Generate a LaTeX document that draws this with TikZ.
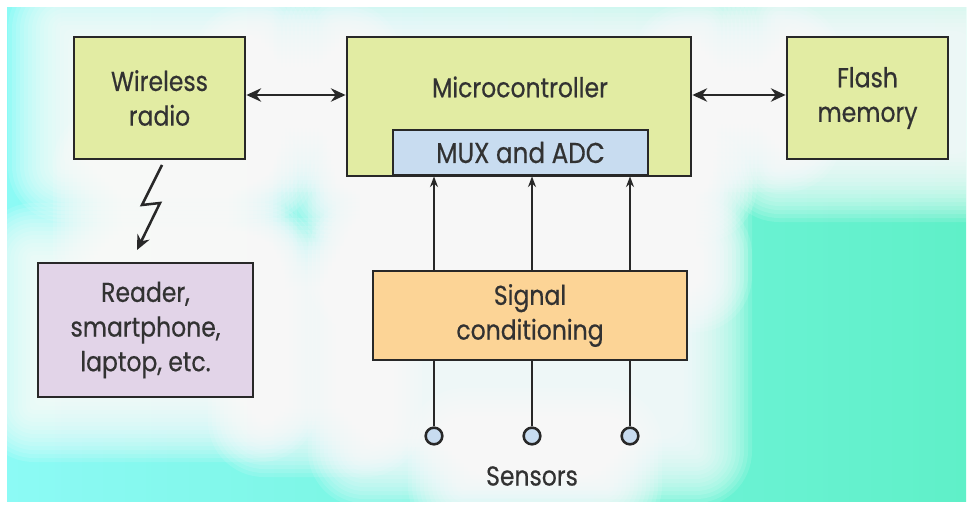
\documentclass[tikz,border=0pt]{standalone}
\usepackage{fontspec}
\newfontfamily\df[FakeStretch=0.86,FakeBold=0.5]{Poppins}
\usetikzlibrary{arrows.meta,calc}
\definecolor{cyanbg}{RGB}{140,250,245}
\definecolor{tealbg}{RGB}{95,240,200}
\definecolor{boxgreen}{RGB}{226,236,163}
\definecolor{muxblue}{RGB}{200,220,240}
\definecolor{readerlav}{RGB}{226,212,232}
\definecolor{sigorange}{RGB}{252,212,150}
\definecolor{linecol}{RGB}{40,40,40}
\definecolor{textcol}{RGB}{50,50,50}
\newcommand\glowbox[4]{%
  \foreach \e in {52,48,...,-16}{%
    \pgfmathsetmacro\rc{max(abs(\e)*0.75+3,3)}%
    \fill[white,opacity=0.12,rounded corners=\rc pt] ({#1-\e},{#2-\e}) rectangle ({#3+\e},{#4+\e});
  }%
}
\tikzset{
  blk/.style={draw=linecol,line width=2.1pt,rectangle,inner sep=0pt,align=center,
    text=textcol,font=\df\fontsize{20.5}{26}\selectfont},
  conn/.style={draw=linecol,line width=1.9pt},
  bigtip/.style={-{Stealth[length=11pt,width=10pt]}},
  dbltip/.style={{Stealth[length=11pt,width=10pt]}-{Stealth[length=11pt,width=10pt]}},
  smalltip/.style={-{Stealth[length=8pt,width=6pt]}},
  sensor/.style={circle,draw=linecol,line width=1.9pt,fill=muxblue,minimum size=12.5pt,inner sep=0pt},
}
\begin{document}
\begin{tikzpicture}[x=0.75pt,y=-0.75pt]
\useasboundingbox (0,0) rectangle (969,506);
\fill[white] (0,0) rectangle (969,506);
\shade[left color=cyanbg,right color=tealbg] (7,8) rectangle (966,501);
\begin{scope}
\clip (7,8) rectangle (966,501);
\glowbox{60}{25}{265}{170}
\glowbox{335}{25}{705}{190}
\glowbox{775}{15}{990}{170}
\glowbox{245}{55}{350}{140}
\glowbox{685}{55}{790}{140}
\glowbox{30}{255}{265}{410}
\glowbox{360}{180}{700}{280}
\glowbox{360}{250}{700}{455}
\glowbox{260}{270}{370}{425}
\glowbox{105}{160}{245}{255}
\glowbox{460}{440}{610}{490}
\end{scope}
% boxes
\node[blk,fill=boxgreen,minimum width=128.25pt,minimum height=91.5pt] (radio) at (159.5,98) {Wireless\\radio};
\node[blk,fill=boxgreen,minimum width=258pt,minimum height=104.25pt] (mcu) at (519,106.5) {};
\node[text=textcol,font=\df\fontsize{20.5}{26}\selectfont] (mcutext) at (520,87) {Microcontroller};
\node[blk,fill=muxblue,minimum width=191.25pt,minimum height=33.75pt,font=\df\fontsize{21.5}{26}\selectfont] (mux) at (520.5,152.5) {MUX and ADC};
\node[blk,fill=boxgreen,minimum width=120.75pt,minimum height=91.5pt] (flash) at (867.5,98) {Flash\\memory};
\node[blk,fill=readerlav,minimum width=161.25pt,minimum height=100.5pt] (reader) at (145.5,330) {Reader,\\smartphone,\\laptop, etc.};
\node[blk,fill=sigorange,minimum width=235.5pt,minimum height=66.75pt] (sig) at (530,315.5) {Signal\\conditioning};
% sensors
\node[sensor] (s1) at (434,436) {};
\node[sensor] (s2) at (532,436) {};
\node[sensor] (s3) at (630,436) {};
\node[text=textcol,font=\df\fontsize{20.5}{26}\selectfont] (senslabel) at (532,476) {Sensors};
% connectors
\draw[conn,dbltip] (radio.east |- 0,95) -- (mcu.west |- 0,95);
\draw[conn,dbltip] (mcu.east |- 0,95) -- (flash.west |- 0,95);
\foreach \s in {s1,s2,s3}{
  \draw[conn,smalltip] (sig.north -| \s) -- (mux.south -| \s);
  \draw[conn] (sig.south -| \s) -- (\s.north);
}
% lightning
\coordinate (l1) at (162,165);
\coordinate (l2) at (142,205);
\coordinate (l3) at (160,203);
\coordinate (l4) at (137,250);
\draw[conn,line join=miter,bigtip] (l1) -- (l2) -- (l3) -- (l4);
\end{tikzpicture}
\end{document}
